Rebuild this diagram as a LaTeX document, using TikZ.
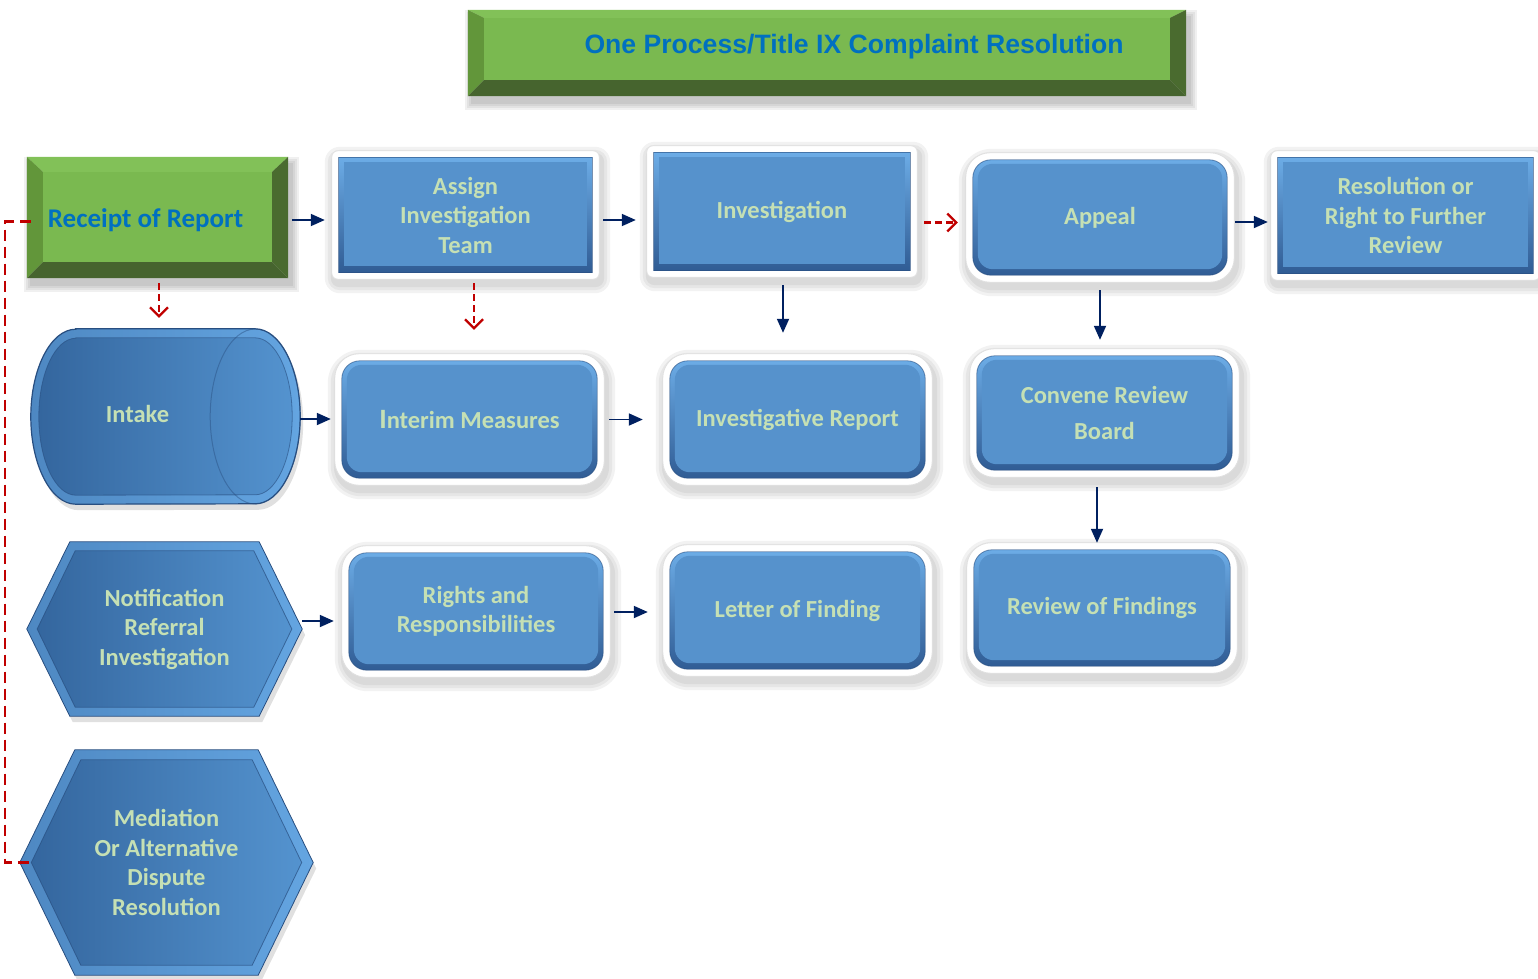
\documentclass[tikz,border=0pt]{standalone}
\usepackage{fontspec}
\setmainfont{Carlito}
\newfontfamily\titlefont{Liberation Sans}
\usetikzlibrary{arrows.meta,calc}
\pgfdeclarelayer{lshadow}\pgfdeclarelayer{lframe}\pgfdeclarelayer{lrim}\pgfdeclarelayer{lface}
\pgfsetlayers{lshadow,lframe,lrim,lface,main}
\definecolor{navy}{RGB}{0,32,96}
\definecolor{dred}{RGB}{192,0,0}
\definecolor{tgreen}{RGB}{197,224,180}
\definecolor{tblue}{RGB}{0,112,192}
\definecolor{bface}{RGB}{86,146,204}
\definecolor{btop}{RGB}{108,172,230}
\definecolor{bbot}{RGB}{48,92,148}
\definecolor{bdark}{RGB}{40,78,128}
\definecolor{gface}{RGB}{122,185,80}
\definecolor{gtop}{RGB}{130,193,88}
\definecolor{gleft}{RGB}{98,150,58}
\definecolor{gright}{RGB}{74,107,47}
\definecolor{gbot}{RGB}{70,100,46}
\definecolor{hrimL}{RGB}{78,136,194}
\definecolor{hrimR}{RGB}{100,165,225}
\definecolor{hfaceL}{RGB}{52,102,158}
\definecolor{hfaceR}{RGB}{84,147,207}
\tikzset{
  bx/.style={rectangle, inner sep=0, text=tgreen, align=center, font=\bfseries\fontsize{24.5}{29.5}\selectfont},
  nav/.style={draw=navy, line width=1.8, -{Triangle[length=14,width=12]}},
  reddash/.style={draw=dred, line width=2.5, dash pattern=on 7 off 4, -{Straight Barb[length=9,width=18,line width=2.2]}},
  redline/.style={draw=dred, line width=2.5, dash pattern=on 11 off 6},
}
% white framed blue box decoration: node, radius
\newcommand\wframe[2]{%
  \begin{pgfonlayer}{lshadow}
    \foreach \s in {3,6,9}{%
      \pgfmathsetmacro\rr{#2+6+\s}
      \fill[black,opacity=0.05,rounded corners=\rr] ([shift={(-7-\s+2,-7-\s+5)}]#1.north west) rectangle ([shift={(7+\s+2,7+\s+5)}]#1.south east);}
  \end{pgfonlayer}
  \begin{pgfonlayer}{lframe}
    \pgfmathsetmacro\rr{#2+6}
    \fill[white, draw=black!12, line width=0.8, rounded corners=\rr] ([shift={(-7,-7)}]#1.north west) rectangle ([shift={(7,7)}]#1.south east);
  \end{pgfonlayer}
  \begin{pgfonlayer}{lrim}
    \shade[top color=btop, bottom color=bbot, rounded corners=#2] (#1.north west) rectangle (#1.south east);
    \draw[bdark, opacity=0.6, line width=0.8, rounded corners=#2] (#1.north west) rectangle (#1.south east);
  \end{pgfonlayer}
  \begin{pgfonlayer}{lface}
    \pgfmathsetmacro\rf{max(#2-3,0)}
    \fill[bface, rounded corners=\rf] ([shift={(5,4)}]#1.north west) rectangle ([shift={(-5,-6)}]#1.south east);
  \end{pgfonlayer}
}
% green bevel: node, left, top, right, bottom
\newcommand\gbevel[5]{%
  \begin{pgfonlayer}{lshadow}
    \foreach \s in {1,3,5,7}{%
      \fill[black,opacity=0.06] ([shift={(-\s+4,-\s+7)}]#1.north west) rectangle ([shift={(\s+4,\s+7)}]#1.south east);}
  \end{pgfonlayer}
  \begin{pgfonlayer}{lrim}
    \coordinate (gA) at (#1.north west);
    \coordinate (gB) at (#1.north east);
    \coordinate (gC) at (#1.south east);
    \coordinate (gD) at (#1.south west);
    \coordinate (ga) at ([shift={(#2,#3)}]#1.north west);
    \coordinate (gb) at ([shift={(-#4,#3)}]#1.north east);
    \coordinate (gc) at ([shift={(-#4,-#5)}]#1.south east);
    \coordinate (gd) at ([shift={(#2,-#5)}]#1.south west);
    \fill[gtop] (gA)--(gB)--(gb)--(ga)--cycle;
    \fill[gleft] (gA)--(ga)--(gd)--(gD)--cycle;
    \fill[gright] (gB)--(gC)--(gc)--(gb)--cycle;
    \fill[gbot] (gD)--(gC)--(gc)--(gd)--cycle;
    \fill[gface] (ga) rectangle (gc);
  \end{pgfonlayer}
}
% hexagon: node, slant, inset
\newcommand\hexa[3]{%
  \begin{pgfonlayer}{lshadow}
    \fill[black,opacity=0.12] ([shift={(3,6)}]#1.west) -- ([shift={(#2+3,6)}]#1.north west) -- ([shift={(-#2+3,6)}]#1.north east) -- ([shift={(3,6)}]#1.east) -- ([shift={(-#2+3,6)}]#1.south east) -- ([shift={(#2+3,6)}]#1.south west) -- cycle;
  \end{pgfonlayer}
  \begin{pgfonlayer}{lrim}
    \shade[left color=hrimL, right color=hrimR, draw=bdark, line width=0.8] (#1.west) -- ([shift={(#2,0)}]#1.north west) -- ([shift={(-#2,0)}]#1.north east) -- (#1.east) -- ([shift={(-#2,0)}]#1.south east) -- ([shift={(#2,0)}]#1.south west) -- cycle;
  \end{pgfonlayer}
  \begin{pgfonlayer}{lface}
    \shade[left color=hfaceL, right color=hfaceR, draw=bdark, draw opacity=0.7, line width=0.8] ([shift={(1.15*#3,0)}]#1.west) -- ([shift={(#2+0.6*#3,#3)}]#1.north west) -- ([shift={(-#2-0.6*#3,#3)}]#1.north east) -- ([shift={(-1.15*#3,0)}]#1.east) -- ([shift={(-#2-0.6*#3,-#3)}]#1.south east) -- ([shift={(#2+0.6*#3,-#3)}]#1.south west) -- cycle;
  \end{pgfonlayer}
}
\begin{document}
\begin{tikzpicture}[x=1pt,y=-1pt]
\useasboundingbox (0,0) rectangle (1538,978);

% title
\node[rectangle, inner sep=0, minimum width=718, minimum height=86] (title) at (827,53) {};
\gbevel{title}{16}{8}{16}{16}
\node[inner sep=0, text=tblue, font=\titlefont\bfseries\fontsize{26.6}{30}\selectfont] (titletext) at ($(title.center)+(27,-6)$) {One Process/Title IX Complaint Resolution};

% receipt
\node[rectangle, inner sep=0, minimum width=261, minimum height=121] (receipt) at (157.5,217.5) {};
\gbevel{receipt}{16}{15}{16}{16}
\node[inner sep=0, text=tblue, font=\bfseries\fontsize{27}{30}\selectfont] (receipttext) at ($(receipt.center)+(-12,2.5)$) {Receipt of Report};

% row 1
\node[bx, minimum width=253, minimum height=114] (assign) at (465.5,215) {Assign\\Investigation\\Team};
\wframe{assign}{0}
\node[bx, minimum width=256, minimum height=117] (invest) at (782,211.5) {Investigation};
\wframe{invest}{0}
\node[bx, minimum width=254, minimum height=115] (appeal) at (1100,217.5) {Appeal};
\wframe{appeal}{18}
\node[bx, minimum width=255, minimum height=115] (resol) at (1405.5,215.5) {Resolution or\\Right to Further\\Review};
\wframe{resol}{0}

% row 2
\node[rectangle, inner sep=0, minimum width=269, minimum height=175] (intake) at (165.5,416.5) {};
\begin{pgfonlayer}{lshadow}
  \fill[black,opacity=0.12] ([shift={(48,6)}]intake.north west) -- ([shift={(-42,6)}]intake.north east) arc[start angle=90,end angle=-90,x radius=45pt,y radius=87.5pt] -- ([shift={(48,6)}]intake.south west) arc[start angle=270,end angle=90,x radius=45pt,y radius=87.5pt] -- cycle;
\end{pgfonlayer}
\begin{pgfonlayer}{lrim}
  \shade[left color=hrimL, right color=hrimR, draw=bdark, line width=1.2] ([xshift=45]intake.north west) -- ([xshift=-45]intake.north east) arc[start angle=90,end angle=-90,x radius=45pt,y radius=87.5pt] -- ([xshift=45]intake.south west) arc[start angle=270,end angle=90,x radius=45pt,y radius=87.5pt] -- cycle;
\end{pgfonlayer}
\begin{pgfonlayer}{lface}
  \shade[left color=hfaceL, right color=hfaceR, draw=bdark, draw opacity=0.6, line width=0.8] ([shift={(45,9)}]intake.north west) -- ([shift={(-45,9)}]intake.north east) arc[start angle=90,end angle=-90,x radius=37pt,y radius=78.5pt] -- ([shift={(45,-9)}]intake.south west) arc[start angle=270,end angle=90,x radius=37pt,y radius=78.5pt] -- cycle;
  \draw[bdark, opacity=0.45, line width=1] ([xshift=-45]intake.east) ellipse[x radius=45pt, y radius=87.5pt];
\end{pgfonlayer}
\node[bx] (intaketext) at ($(intake.center)+(-28,-3)$) {Intake};

\node[bx, minimum width=255, minimum height=117] (interim) at (469.5,419.5) {{\fontsize{28}{29.5}\selectfont I}nterim Measures};
\wframe{interim}{18}
\node[bx, minimum width=255, minimum height=117] (ireport) at (797.5,419.5) {Investigative Report};
\wframe{ireport}{18}
\node[bx, minimum width=255, minimum height=114, font=\bfseries\fontsize{24.5}{36}\selectfont] (convene) at (1104.5,413) {Convene Review\\Board};
\wframe{convene}{18}

% row 3
\node[bx, minimum width=275, minimum height=174] (notif) at (164.5,629) {Notification\\Referral\\Investigation};
\hexa{notif}{43}{9}
\node[bx, minimum width=254, minimum height=117] (rights) at (476,611.5) {Rights and\\Responsibilities};
\wframe{rights}{18}
\node[bx, minimum width=255, minimum height=117] (letter) at (797.5,610.5) {Letter of Finding};
\wframe{letter}{18}
\node[bx, minimum width=256, minimum height=116] (review) at (1102,608) {Review of Findings};
\wframe{review}{18}

% row 4
\node[bx, minimum width=293, minimum height=225] (mediation) at (166.5,862.5) {Mediation\\Or Alternative\\Dispute\\Resolution};
\hexa{mediation}{55}{10}

% connectors
\draw[nav] ($(receipt.east)+(4,2.5)$) -- ($(receipt.east -| assign.west)+(-14,2.5)$);
\draw[nav] ($(assign.east)+(11,5)$) -- ($(assign.east -| invest.west)+(-18,5)$);
\draw[reddash] ($(invest.east)+(14,11)$) -- ($(invest.east -| appeal.west)+(-15,11)$);
\draw[nav] ($(appeal.east)+(8,4.5)$) -- ($(appeal.east -| resol.west)+(-10,4.5)$);
\draw[reddash] ($(receipt.south)+(1.5,5)$) -- ($(receipt.south |- intake.north)+(1.5,-11)$);
\draw[reddash] ($(assign.south)+(8.5,11)$) -- ($(assign.south |- interim.north)+(8.5,-31)$);
\draw[nav] ($(invest.south)+(1,15)$) -- ($(invest.south |- ireport.north)+(1,-28)$);
\draw[nav] ($(appeal.south)+(0,15)$) -- ($(appeal.south |- convene.north)+(0,-16)$);
\draw[nav] ($(convene.south)+(-7.5,17)$) -- ($(convene.south |- review.north)+(-7.5,-7)$);
\draw[nav] ($(intake.east)+(0,2.5)$) -- ($(intake.east -| interim.west)+(-11,2.5)$);
\draw[nav] ($(interim.east)+(12,0)$) -- ($(interim.east -| ireport.west)+(-27,0)$);
\draw[nav] ($(notif.east)+(0,-8)$) -- ($(notif.east -| rights.west)+(-15,-8)$);
\draw[nav] ($(rights.east)+(11,0.5)$) -- ($(rights.east -| letter.west)+(-22,0.5)$);
\draw[redline] ($(receipt.west)+(4,4)$) -- ($(receipt.west)+(-22,4)$) |- ($(mediation.west)+(12,0)$);
\end{tikzpicture}
\end{document}
